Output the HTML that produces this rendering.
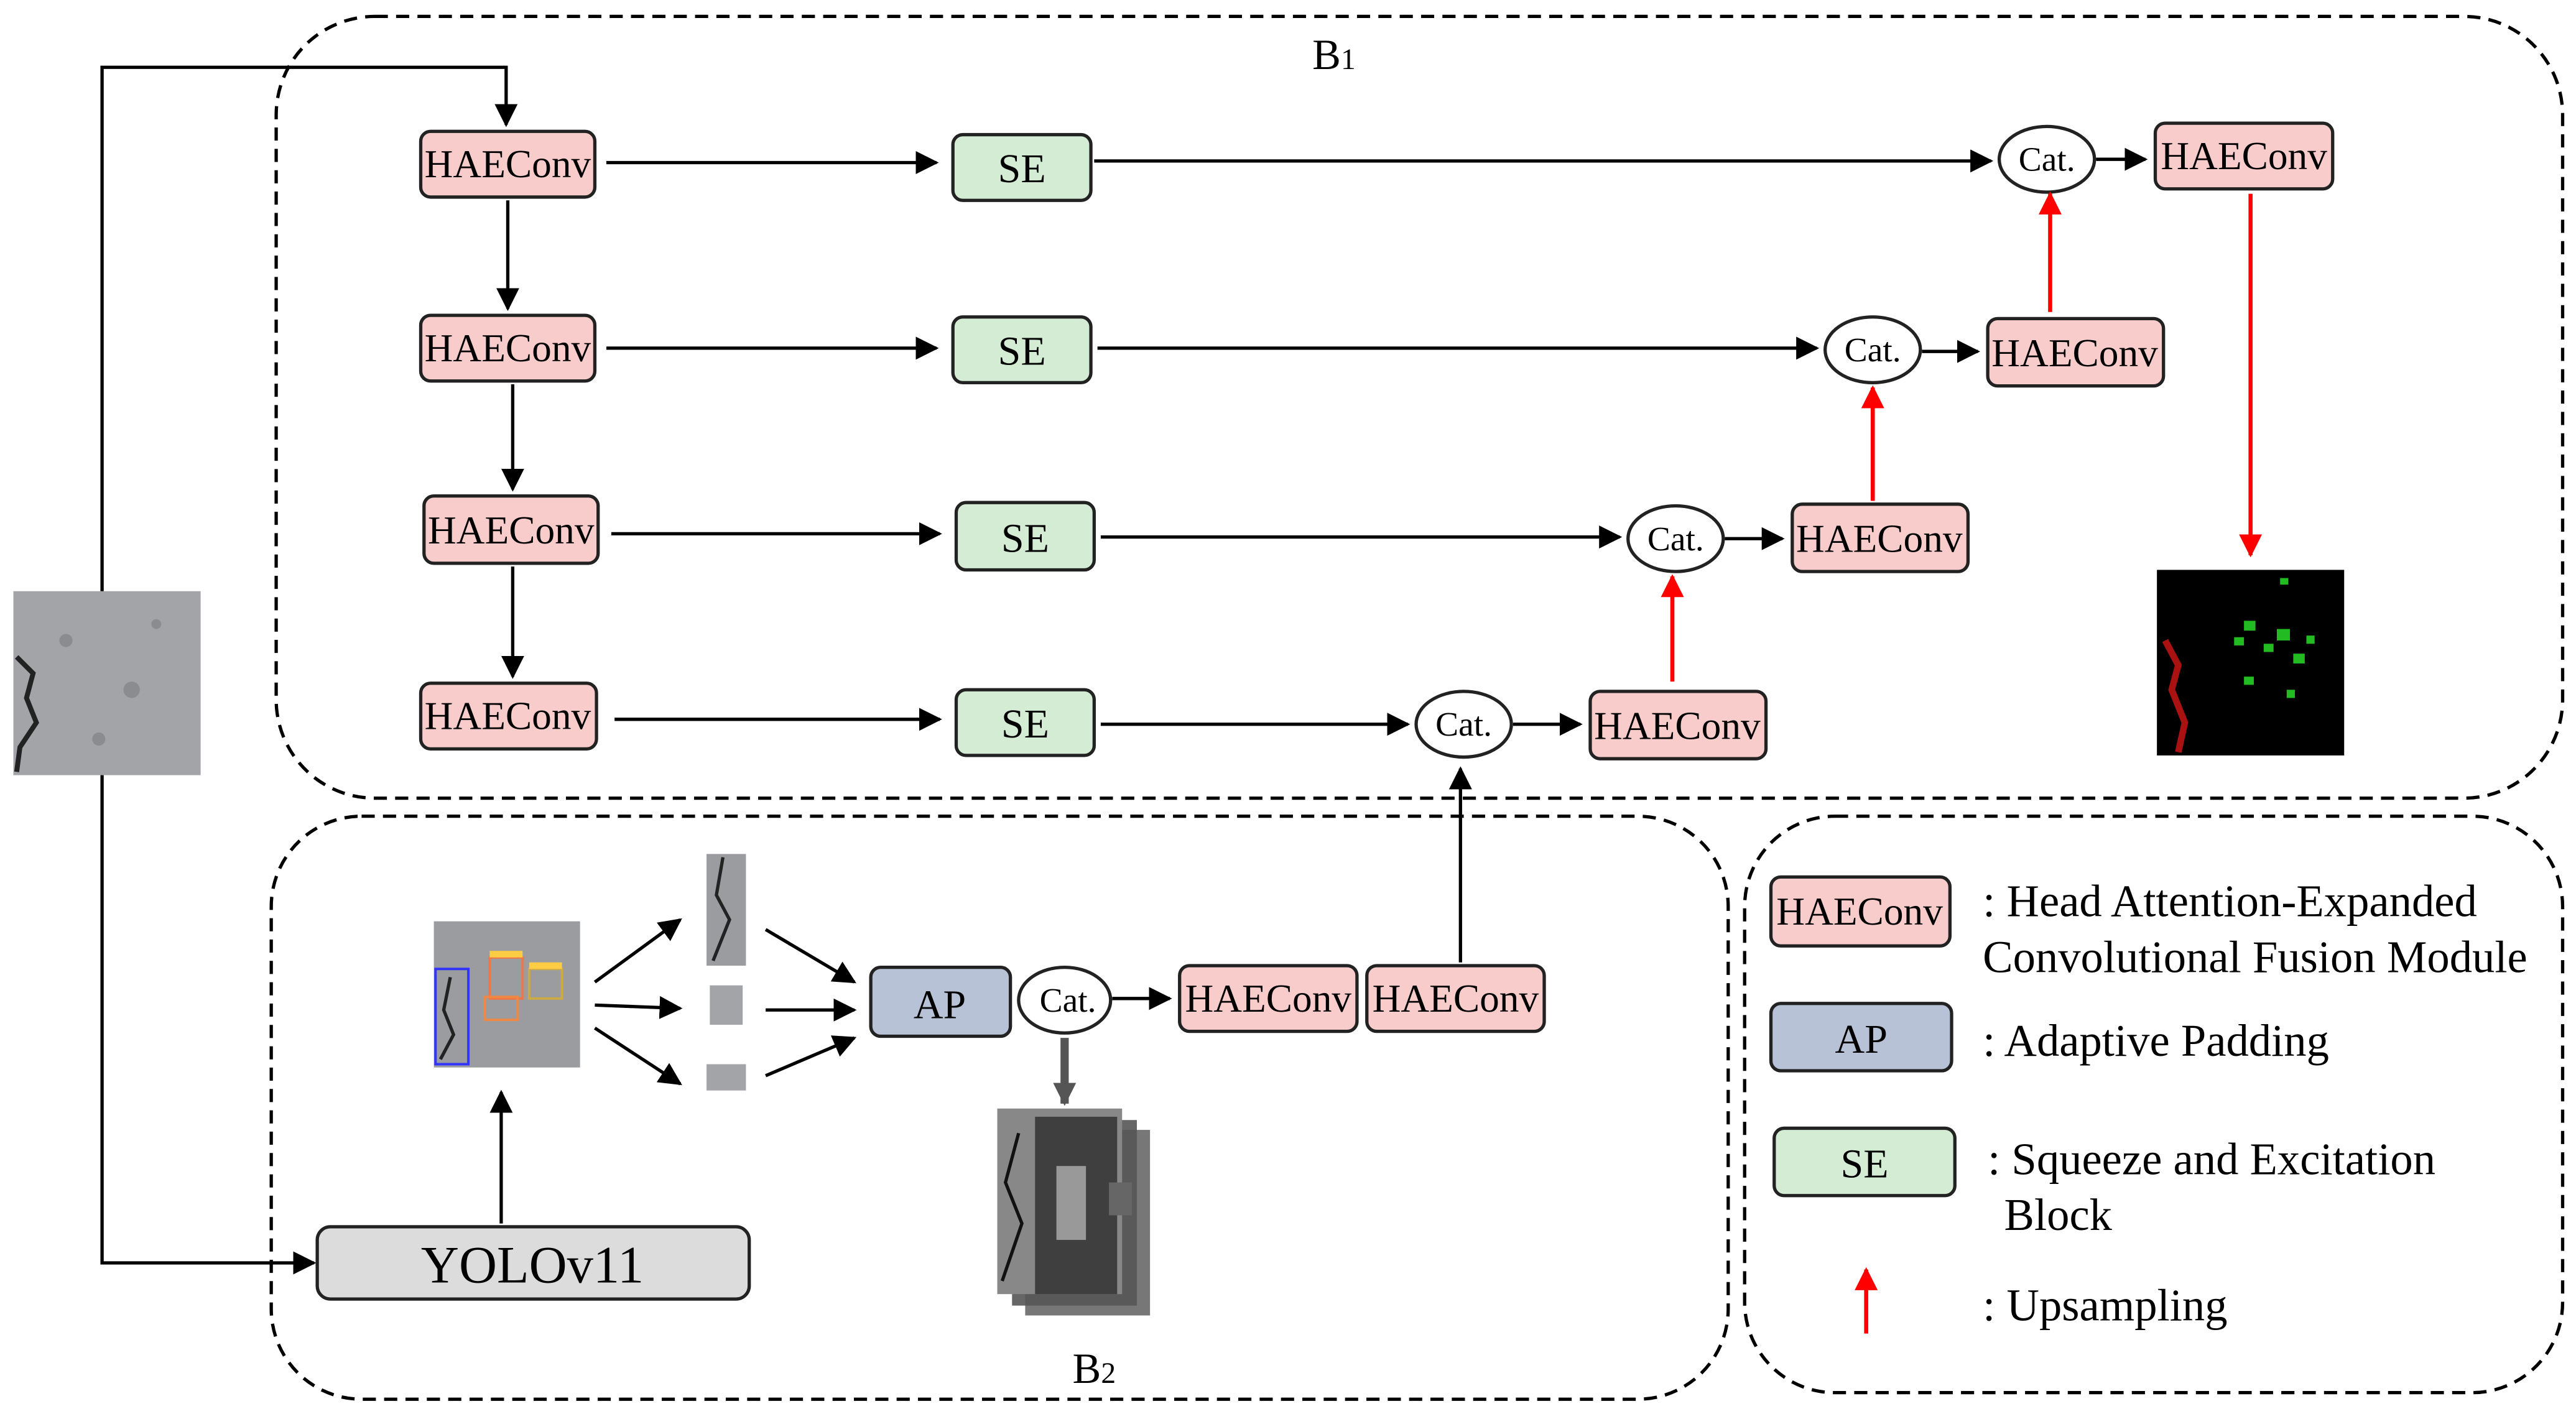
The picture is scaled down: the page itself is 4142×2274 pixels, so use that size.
<!DOCTYPE html>
<html><head><meta charset="utf-8"><style>
html,body{margin:0;padding:0;background:#fff;}
svg{display:block;}
text{font-family:"Liberation Serif",serif;}
</style></head><body>
<svg width="4142" height="2274" viewBox="0 0 1568 861" xmlns="http://www.w3.org/2000/svg">
<defs>
<marker id="ak" viewBox="0 0 10 10" markerWidth="14" markerHeight="14" refX="9" refY="5" orient="auto" markerUnits="userSpaceOnUse"><path d="M0,0 L10,5 L0,10 z" fill="#000"/></marker>
<marker id="r" viewBox="0 0 10 10" markerWidth="14" markerHeight="14" refX="9" refY="5" orient="auto" markerUnits="userSpaceOnUse"><path d="M0,0 L10,5 L0,10 z" fill="#f00"/></marker>
<marker id="g" viewBox="0 0 10 10" markerWidth="14" markerHeight="14" refX="9" refY="5" orient="auto" markerUnits="userSpaceOnUse"><path d="M0,0 L10,5 L0,10 z" fill="#555"/></marker>
</defs>
<g fill="none" stroke="#000" stroke-width="2" stroke-dasharray="8,5">
<rect x="168" y="10" width="1392" height="476" rx="60"/>
<rect x="165" y="497" width="887" height="355" rx="55"/>
<rect x="1062" y="497" width="498" height="351" rx="55"/>
</g>
<text x="812" y="42" font-size="26" text-anchor="middle" font-family="Liberation Sans,sans-serif">B<tspan font-size="18">1</tspan></text>
<text x="666" y="842" font-size="26" text-anchor="middle" font-family="Liberation Sans,sans-serif">B<tspan font-size="18">2</tspan></text>

<rect x="8" y="360" width="114" height="112" fill="#a2a4a8"/>
<g fill="#8a8c90"><circle cx="40" cy="390" r="4"/><circle cx="80" cy="420" r="5"/><circle cx="95" cy="380" r="3"/><circle cx="60" cy="450" r="4"/></g>
<path d="M10,400 L20,410 L16,425 L22,440 L12,455 L10,470" stroke="#222" stroke-width="3" fill="none"/>
<g stroke="#000" stroke-width="2" fill="none">
<path d="M62,360 L62,41 L308,41 L308,76" marker-end="url(#ak)"/>
<path d="M62,472 L62,769 L191,769" marker-end="url(#ak)"/>
</g>

<g stroke="#222" stroke-width="2">
<rect x="256" y="80" width="106" height="40" rx="6" fill="#f9cccc"/>
<rect x="256" y="192" width="106" height="40" rx="6" fill="#f9cccc"/>
<rect x="258" y="302" width="106" height="41" rx="6" fill="#f9cccc"/>
<rect x="256" y="416" width="107" height="40" rx="6" fill="#f9cccc"/>
<rect x="1312" y="75" width="108" height="40" rx="6" fill="#f9cccc"/>
<rect x="1210" y="194" width="107" height="41" rx="6" fill="#f9cccc"/>
<rect x="1091" y="307" width="107" height="41" rx="6" fill="#f9cccc"/>
<rect x="968" y="421" width="107" height="41" rx="6" fill="#f9cccc"/>
<rect x="718" y="588" width="108" height="40" rx="6" fill="#f9cccc"/>
<rect x="832" y="588" width="108" height="40" rx="6" fill="#f9cccc"/>
<rect x="1078" y="534" width="109" height="42" rx="6" fill="#f9cccc"/>
<rect x="580" y="82" width="84" height="40" rx="6" fill="#d4ecd4"/>
<rect x="580" y="193" width="84" height="40" rx="6" fill="#d4ecd4"/>
<rect x="582" y="306" width="84" height="41" rx="6" fill="#d4ecd4"/>
<rect x="582" y="420" width="84" height="40" rx="6" fill="#d4ecd4"/>
<rect x="1080" y="687" width="110" height="41" rx="6" fill="#d4ecd4"/>
<rect x="530" y="589" width="85" height="42" rx="6" fill="#b7c2d6"/>
<rect x="1078" y="611" width="110" height="41" rx="6" fill="#b7c2d6"/>
<rect x="193" y="747" width="263" height="44" rx="8" fill="#dcdcdc"/>
<ellipse cx="1246" cy="97" rx="29" ry="20" fill="#fff"/>
<ellipse cx="1140" cy="213" rx="29" ry="20" fill="#fff"/>
<ellipse cx="1020" cy="328" rx="29" ry="20" fill="#fff"/>
<ellipse cx="891" cy="441" rx="29" ry="20" fill="#fff"/>
<ellipse cx="648" cy="609" rx="28" ry="20" fill="#fff"/>
</g>
<g font-size="24" text-anchor="middle">
<text x="309" y="108">HAEConv</text><text x="309" y="220">HAEConv</text>
<text x="311" y="331">HAEConv</text><text x="309" y="444">HAEConv</text>
<text x="1366" y="103">HAEConv</text><text x="1263" y="223">HAEConv</text>
<text x="1144" y="336">HAEConv</text><text x="1021" y="450">HAEConv</text>
<text x="772" y="616">HAEConv</text><text x="886" y="616">HAEConv</text>
<text x="1132" y="563">HAEConv</text>
<text font-size="25" x="622" y="111">SE</text><text font-size="25" x="622" y="222">SE</text>
<text font-size="25" x="624" y="336">SE</text><text font-size="25" x="624" y="449">SE</text>
<text font-size="25" x="1135" y="717">SE</text>
<text font-size="25" x="572" y="620">AP</text><text font-size="25" x="1133" y="641">AP</text>
<text font-size="21" x="1246" y="104">Cat.</text><text font-size="21" x="1140" y="220">Cat.</text>
<text font-size="21" x="1020" y="335">Cat.</text><text font-size="21" x="891" y="448">Cat.</text>
<text font-size="21" x="650" y="616">Cat.</text>
<text font-size="32" x="324" y="781">YOLOv11</text>
</g>

<g stroke="#000" stroke-width="2" fill="none" marker-end="url(#ak)">
<path d="M309,122 L309,188"/><path d="M312,234 L312,298"/><path d="M312,345 L312,412"/>
<path d="M369,99 L570,99"/><path d="M369,212 L570,212"/><path d="M372,325 L572,325"/><path d="M374,438 L572,438"/>
<path d="M666,98 L1212,98"/><path d="M668,212 L1106,212"/><path d="M670,327 L986,327"/><path d="M670,441 L857,441"/>
<path d="M1276,97 L1306,97"/><path d="M1170,214 L1204,214"/><path d="M1050,328 L1085,328"/><path d="M921,441 L962,441"/>
<path d="M305,745 L305,665"/><path d="M889,586 L889,468"/>
<path d="M677,608 L712,608"/>
<path d="M362,598 L414,560"/><path d="M362,612 L414,614"/><path d="M362,626 L414,660"/>
<path d="M466,566 L520,598"/><path d="M466,615 L520,615"/><path d="M466,655 L520,632"/>
</g>
<g stroke="#f00" stroke-width="2.5" fill="none" marker-end="url(#r)">
<path d="M1248,190 L1248,118"/><path d="M1140,305 L1140,236"/><path d="M1018,415 L1018,351"/>
<path d="M1370,118 L1370,338"/><path d="M1136,812 L1136,773"/>
</g>
<path d="M648,632 L648,672" stroke="#555" stroke-width="5" marker-end="url(#g)"/>

<rect x="264" y="561" width="89" height="89" fill="#9a9ca0"/>
<rect x="265" y="590" width="20" height="58" fill="none" stroke="#33f" stroke-width="1.5"/>
<path d="M274,595 L270,615 L276,630 L268,645" stroke="#222" stroke-width="2" fill="none"/>
<rect x="298" y="583" width="20" height="25" fill="none" stroke="#e74" stroke-width="1.5"/>
<rect x="322" y="590" width="20" height="18" fill="none" stroke="#ca4" stroke-width="1.5"/>
<rect x="295" y="607" width="20" height="14" fill="none" stroke="#e84" stroke-width="1.5"/>
<rect x="298" y="579" width="20" height="4" fill="#fc4"/><rect x="322" y="586" width="20" height="4" fill="#fc4"/>
<rect x="430" y="520" width="24" height="68" fill="#9a9ca0"/>
<path d="M440,522 L436,545 L444,560 L434,585" stroke="#222" stroke-width="2" fill="none"/>
<rect x="432" y="600" width="20" height="24" fill="#a2a4a8"/>
<rect x="430" y="648" width="24" height="16" fill="#a2a4a8"/>
<rect x="624" y="688" width="76" height="113" fill="#777"/>
<rect x="616" y="682" width="76" height="113" fill="#555" opacity="0.9"/>
<rect x="607" y="675" width="76" height="113" fill="#888"/>
<path d="M620,690 L612,720 L622,745 L610,780" stroke="#111" stroke-width="2" fill="none"/>
<rect x="630" y="680" width="50" height="108" fill="#333" opacity="0.85"/>
<rect x="643" y="710" width="18" height="45" fill="#999"/>
<rect x="675" y="720" width="14" height="20" fill="#666"/>
<rect x="1313" y="347" width="114" height="113" fill="#000"/>
<path d="M1318,390 L1326,405 L1322,420 L1330,440 L1326,458" stroke="#a11" stroke-width="4" fill="none"/>
<g fill="#2b2">
<rect x="1388" y="352" width="5" height="4"/><rect x="1366" y="378" width="7" height="6"/><rect x="1386" y="383" width="8" height="7"/>
<rect x="1360" y="388" width="6" height="5"/><rect x="1378" y="392" width="6" height="5"/><rect x="1404" y="387" width="5" height="5"/>
<rect x="1396" y="398" width="7" height="6"/><rect x="1366" y="412" width="6" height="5"/><rect x="1392" y="420" width="5" height="5"/>
</g>
<g font-size="27.5">
<text x="1207" y="558">: Head Attention-Expanded</text>
<text x="1207" y="592">Convolutional Fusion Module</text>
<text x="1207" y="643">: Adaptive Padding</text>
<text x="1210" y="715">: Squeeze and Excitation</text>
<text x="1220" y="749">Block</text>
<text x="1207" y="804">: Upsampling</text>
</g>
</svg>
</body></html>
